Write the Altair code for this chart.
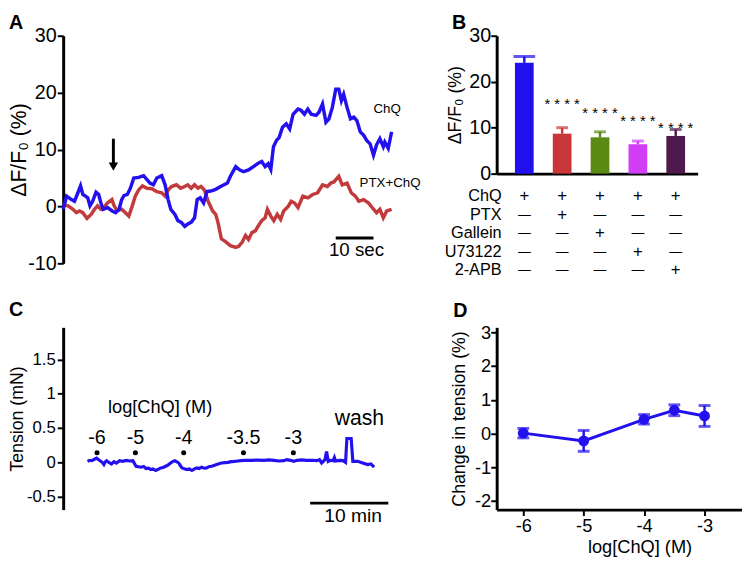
import altair as alt
import pandas as pd

FONT = "Liberation Sans"
BLUE = "#2211ee"
RED = "#c23a3b"

# ---------------- Panel A: ΔF/F0 traces (time s, value %) ----------------
a_chq = [(0.0, -0.5), (0.9, 1.8), (2.2, 1.2), (3.0, 0.9), (3.9, 2.4), (4.6, 3.6), (5.2, 2.1),
         (5.9, 1.8), (6.5, 1.5), (7.1, 0.1), (7.8, 0.9), (8.7, 2.5), (9.4, 2.1), (10.0, 0.6),
         (10.6, -0.5), (11.7, -0.2), (13.0, -0.8), (13.9, -1.1), (14.8, -0.5), (15.5, 1.2),
         (16.1, 1.9), (17.0, 2.1), (17.8, 3.2), (18.7, 5.0), (20.0, 5.1), (21.3, 5.4),
         (22.2, 4.7), (23.0, 4.1), (23.9, 3.8), (24.8, 5.0), (26.1, 5.4), (27.0, 3.8),
         (27.8, 1.2), (28.5, -0.5), (29.6, -1.4), (30.4, -2.5), (31.3, -2.8), (32.2, -3.5),
         (33.0, -3.1), (33.9, -2.8), (34.8, -2.0), (35.5, 1.2), (36.3, 1.5), (37.2, 0.6),
         (38.1, 2.6), (39.1, 2.7), (40.4, 3.0), (41.7, 3.5), (43.5, 4.1), (44.3, 5.3),
         (45.7, 7.0), (46.8, 6.4), (47.8, 6.1), (49.1, 6.4), (50.4, 7.0), (51.7, 7.6),
         (52.6, 7.9), (53.5, 7.0), (54.3, 7.5), (55.0, 6.5), (55.7, 10.5), (56.5, 11.6),
         (57.2, 12.1), (58.1, 13.9), (59.1, 14.5), (60.0, 13.6), (60.9, 16.2), (62.2, 17.1),
         (63.0, 16.9), (63.9, 16.2), (64.8, 17.1), (65.7, 16.2), (67.0, 16.0), (67.8, 16.6),
         (68.7, 18.0), (69.6, 14.8), (70.4, 15.4), (71.3, 17.4), (72.2, 20.6), (73.0, 20.6),
         (73.7, 18.6), (74.3, 19.7), (75.2, 17.4), (76.1, 15.4), (77.0, 15.7), (77.8, 15.1),
         (78.7, 13.1), (79.6, 12.5), (80.4, 11.6), (81.3, 11.0), (82.2, 9.0), (83.0, 10.8),
         (83.9, 11.9), (84.8, 10.5), (85.2, 11.3), (86.1, 10.2), (87.0, 13.1)]

a_ptx = [(0.0, 0.3), (1.3, 0.1), (2.6, -0.5), (3.5, -1.1), (4.3, -0.8), (5.2, -1.1), (6.3, -2.1),
         (7.4, -1.4), (8.3, -0.5), (9.1, 0.1), (10.0, -0.5), (10.9, -0.1), (11.7, 0.6),
         (12.9, 1.2), (13.5, 0.1), (14.3, -0.8), (15.5, -0.5), (16.5, -1.1), (17.4, -1.7),
         (18.3, 0.1), (19.1, 1.8), (20.0, 2.9), (21.0, 3.6), (22.2, 3.2), (23.5, 3.1),
         (24.8, 2.6), (26.1, 2.4), (27.0, 1.8), (27.8, 2.9), (28.7, 3.5), (30.0, 3.8),
         (31.1, 3.2), (32.2, 3.5), (33.0, 3.8), (33.9, 3.2), (34.8, 3.8), (35.7, 3.2),
         (36.5, 3.5), (37.4, 2.9), (38.4, 0.9), (39.6, -0.8), (40.4, -1.4), (41.0, -2.8),
         (41.9, -5.7), (43.0, -6.2), (44.3, -6.9), (45.7, -7.2), (46.5, -7.0), (47.4, -6.3),
         (48.3, -5.1), (49.1, -5.8), (50.0, -4.6), (50.9, -4.3), (51.7, -3.4), (52.6, -2.5),
         (53.5, -2.0), (54.1, -0.5), (55.0, -1.7), (55.8, -2.5), (56.7, -1.4), (57.6, -2.3),
         (58.4, -0.8), (59.6, 0.0), (60.4, 0.9), (61.3, 0.6), (62.2, -0.2), (63.5, 1.8),
         (64.8, 1.5), (66.1, 2.1), (67.4, 2.4), (68.7, 3.8), (70.0, 3.5), (70.9, 4.1),
         (71.7, 4.3), (73.0, 5.3), (73.9, 3.8), (75.2, 4.1), (76.3, 2.4), (77.4, 1.8),
         (78.3, 0.9), (79.6, 1.2), (80.9, 0.6), (82.2, -0.5), (83.0, -1.1), (83.9, -0.5),
         (84.8, -2.0), (85.7, -0.8), (87.0, -0.5)]

a_series = ["ChQ", "PTX+ChQ"]
a_arrow_t = 13.3

# ---------------- Panel B: bar summary ----------------
b_groups = ["ChQ", "PTX", "Gallein", "U73122", "2-APB"]
b_mean = [24.1, 8.7, 7.9, 6.4, 8.2]
b_sem = [1.4, 1.3, 1.2, 0.7, 1.4]
b_colors = ["#2010f0", "#c8363a", "#5a8a12", "#d23ef6", "#4e1a4e"]
b_stars = ["", "* * * *", "* * * *", "* * * *", "* * * *"]
b_star_y = [None, 15.8, 13.8, 12.1, 10.7]
b_rows = ["ChQ", "PTX", "Gallein", "U73122", "2-APB"]
b_signs = [
    ["+", "+", "+", "+", "+"],
    ["—", "+", "—", "—", "—"],
    ["—", "—", "+", "—", "—"],
    ["—", "—", "—", "+", "—"],
    ["—", "—", "—", "—", "+"],
]

# ---------------- Panel C: tension trace (time min, mN) ----------------
c_trace = [(3.11, 0.014), (3.40, 0.030), (3.66, 0.024), (4.00, 0.045), (4.29, 0.062),
           (4.50, 0.040), (4.71, 0.024), (5.00, 0.000), (5.21, -0.033), (5.40, 0.010),
           (5.55, 0.024), (5.90, -0.005), (6.18, -0.024), (6.50, 0.010), (6.81, -0.010),
           (7.23, 0.024), (7.60, 0.015), (8.07, 0.029), (8.50, 0.020), (8.91, 0.024),
           (9.33, -0.057), (9.96, -0.071), (10.30, -0.060), (10.59, -0.090), (10.90, -0.085),
           (11.22, -0.105), (11.50, -0.095), (11.85, -0.119), (12.20, -0.100), (12.48, -0.081),
           (12.80, -0.075), (13.11, -0.057), (13.40, -0.040), (13.74, -0.010), (14.00, 0.010),
           (14.29, 0.024), (14.50, 0.010), (14.79, -0.010), (15.00, -0.050), (15.21, -0.081),
           (15.50, -0.095), (15.84, -0.105), (16.15, -0.095), (16.47, -0.119), (16.80, -0.095),
           (17.10, -0.081), (17.40, -0.090), (17.73, -0.071), (18.05, -0.085), (18.36, -0.081),
           (18.70, -0.060), (18.99, -0.057), (19.30, -0.045), (19.62, -0.033), (19.95, -0.020),
           (20.25, -0.010), (20.70, -0.005), (21.09, 0.000), (21.50, 0.010), (21.93, 0.014),
           (22.35, 0.020), (22.77, 0.024), (23.40, 0.030), (24.03, 0.029), (24.80, 0.032),
           (25.71, 0.029), (26.30, 0.035), (26.97, 0.029), (27.60, 0.020), (28.24, 0.024),
           (28.60, 0.040), (29.08, 0.029), (29.50, 0.015), (29.92, 0.029), (30.50, 0.035),
           (31.18, 0.029), (31.80, 0.030), (32.44, 0.024), (32.80, 0.040), (33.07, -0.010),
           (33.49, 0.038), (33.70, 0.157), (33.91, 0.014), (34.20, 0.030), (34.54, 0.024),
           (34.70, 0.070), (34.85, 0.020), (35.38, 0.029), (35.80, 0.025), (36.13, 0.000),
           (36.30, 0.348), (36.85, 0.348), (37.06, 0.014), (37.69, 0.014), (38.32, -0.010),
           (38.95, -0.033), (39.37, -0.024), (39.79, -0.071)]
c_doses = ["-6", "-5", "-4", "-3.5", "-3"]
c_dose_t = [4.33, 9.24, 15.42, 23.07, 29.45]

# ---------------- Panel D: concentration-response ----------------
d_logc = [-6, -5, -4, -3.5, -3]
d_mean = [0.01, -0.22, 0.42, 0.69, 0.52]
d_sem = [0.14, 0.31, 0.14, 0.16, 0.31]

# ---------------- layout ----------------
A_W, A_H, A_T, A_Y = 410, 231, [0, 107], [-10, 30]
B_W, B_H, B_X, B_Y = 204, 140, [0.4, 5.45], [0, 30]
C_W, C_H, C_T, C_Y = 403, 185, [0, 50.8], [-0.69, 1.97]
D_W, D_H, D_X, D_Y = 249, 185, [-6.44, -2.38], [-2.26, 3.15]


def sc(domain):
    return alt.Scale(domain=domain, nice=False, zero=False)


def lab_expr():
    return "toString(datum.value)"


def panel_label(letter, x, y, xf, yf):
    return alt.Chart(pd.DataFrame({"x": [x], "v": [y], "s": [letter]})).mark_text(
        align="left", baseline="middle", fontSize=20, fontWeight="bold", color="black"
    ).encode(x=xf("x"), y=yf("v"), text="s:N")


# ----- A -----
axA = alt.Axis(values=[-10, 0, 10, 20, 30], title="ΔF/F₀ (%)", labelExpr=lab_expr(),
               labelFontSize=20, titleFontSize=21.5, titleX=-33, labelPadding=1)


def xA(f):
    return alt.X(f"{f}:Q", scale=sc(A_T), axis=None)


def yA(f):
    return alt.Y(f"{f}:Q", scale=sc(A_Y), axis=axA)


dfA = pd.DataFrame(
    [{"x": t, "v": v, "s": a_series[0]} for t, v in a_chq]
    + [{"x": t, "v": v, "s": a_series[1]} for t, v in a_ptx]
)
lineR = alt.Chart(dfA[dfA.s == a_series[1]]).mark_line(color=RED, strokeWidth=3.5).encode(x=xA("x"), y=yA("v"))
lineB = alt.Chart(dfA[dfA.s == a_series[0]]).mark_line(color=BLUE, strokeWidth=3.5).encode(x=xA("x"), y=yA("v"))
txtA = alt.Chart(pd.DataFrame({"x": [82.2, 78.5], "v": [17.1, 4.1], "s": a_series})).mark_text(
    align="left", baseline="middle", fontSize=13.5, color="black").encode(x=xA("x"), y=yA("v"), text="s:N")
arrow = alt.Chart(pd.DataFrame({"x": [a_arrow_t], "v": [11.9], "v2": [7.6]})).mark_rule(
    strokeWidth=3, color="black").encode(x=xA("x"), y=yA("v"), y2="v2")
arrowhead = alt.Chart(pd.DataFrame({"x": [a_arrow_t], "v": [7.0]})).mark_point(
    shape="triangle-down", filled=True, size=90, color="black", opacity=1).encode(x=xA("x"), y=yA("v"))
barA = alt.Chart(pd.DataFrame({"x": [72.2], "x2": [82.2], "v": [-5.55]})).mark_rule(
    strokeWidth=3, color="black").encode(x=xA("x"), x2="x2", y=yA("v"))
barAtxt = alt.Chart(pd.DataFrame({"x": [77.7], "v": [-7.6], "s": ["10 sec"]})).mark_text(
    fontSize=19, baseline="middle", color="black").encode(x=xA("x"), y=yA("v"), text="s:N")
panelA = alt.layer(lineR, lineB, txtA, arrow, arrowhead, barA, barAtxt,
                   panel_label("A", -14.35, 32.3, xA, yA)).properties(width=A_W, height=A_H)

# ----- B -----
axBy = alt.Axis(values=[0, 10, 20, 30], title="ΔF/F₀ (%)", labelExpr=lab_expr(),
                labelFontSize=20, titleFontSize=18, titleX=-33, labelPadding=0)
axBx = alt.Axis(ticks=False, labels=False, title=None)


def xB(f):
    return alt.X(f"{f}:Q", scale=sc(B_X), axis=axBx)


def yB(f):
    return alt.Y(f"{f}:Q", scale=alt.Scale(domain=B_Y, nice=False), axis=axBy)


n = len(b_groups)
dfB = pd.DataFrame({
    "x": list(range(1, n + 1)), "v": b_mean,
    "hi": [m + s for m, s in zip(b_mean, b_sem)], "g": b_groups,
    "cap": [22] + [12] * (n - 1),
})
colB = alt.Color("g:N", scale=alt.Scale(domain=b_groups, range=b_colors), legend=None)
bars = alt.Chart(dfB).mark_bar(size=19).encode(x=xB("x"), y=yB("v"), color=colB)
errB = alt.Chart(dfB).mark_rule(strokeWidth=2.5).encode(x=xB("x"), y=yB("v"), y2="hi", color=colB)
capB = alt.Chart(dfB).mark_tick(orient="horizontal", thickness=3).encode(
    x=xB("x"), y=yB("hi"), size=alt.Size("cap:Q", scale=None), color=colB)
dfS = pd.DataFrame({"x": list(range(1, n + 1)), "s": b_stars,
                    "v": [(y - 1.8) if y is not None else 0 for y in b_star_y]})
dfS = dfS[dfS.s != ""]
stars = alt.Chart(dfS).mark_text(fontSize=15, baseline="alphabetic", color="black").encode(
    x=xB("x"), y=yB("v"), text="s:N")
row_v = [-4.9 - 4.03 * i for i in range(len(b_rows))]
rowlab = alt.Chart(pd.DataFrame({"x": [B_X[0]] * len(b_rows), "v": row_v, "s": b_rows})).mark_text(
    align="right", baseline="middle", fontSize=16.5, color="black").encode(x=xB("x"), y=yB("v"), text="s:N")
sign_rows = []
for i, row in enumerate(b_signs):
    for j, s in enumerate(row):
        sign_rows.append({"x": j + 1, "v": row_v[i], "s": s, "fs": 17 if s == "+" else 13})
signs = alt.Chart(pd.DataFrame(sign_rows)).mark_text(align="center", baseline="middle", color="black").encode(
    x=xB("x"), y=yB("v"), text="s:N", size=alt.Size("fs:Q", scale=None))
panelB = alt.layer(bars, errB, capB, stars, rowlab, signs,
                   panel_label("B", -0.91, 32.7, xB, yB)).properties(width=B_W, height=B_H)

# ----- C -----
axC = alt.Axis(values=[-0.5, 0, 0.5, 1, 1.5], title="Tension (mN)", labelExpr=lab_expr(),
               labelFontSize=17, titleFontSize=18, titleX=-37, labelPadding=2)


def xC(f):
    return alt.X(f"{f}:Q", scale=sc(C_T), axis=None)


def yC(f):
    return alt.Y(f"{f}:Q", scale=sc(C_Y), axis=axC)


dfC = pd.DataFrame(c_trace, columns=["x", "v"])
lineC = alt.Chart(dfC).mark_line(color=BLUE, strokeWidth=3.2).encode(x=xC("x"), y=yC("v"))
dfDose = pd.DataFrame({"x": c_dose_t, "s": c_doses})
dfDose["v"] = 0.14
dfDose["vl"] = 0.35
dots = alt.Chart(dfDose).mark_circle(size=26, color="black", opacity=1).encode(x=xC("x"), y=yC("v"))
doseTxt = alt.Chart(dfDose).mark_text(fontSize=20, baseline="middle", color="black").encode(
    x=xC("x"), y=yC("vl"), text="s:N")
txtC = alt.Chart(pd.DataFrame({"x": [12.4, 37.9, 37.1], "v": [0.81, 0.633, -0.786],
                               "s": ["log[ChQ] (M)", "wash", "10 min"],
                               "fs": [18.5, 21.5, 19.5]})).mark_text(baseline="middle", color="black").encode(
    x=xC("x"), y=yC("v"), text="s:N", size=alt.Size("fs:Q", scale=None))
barC = alt.Chart(pd.DataFrame({"x": [31.6], "x2": [41.6], "v": [-0.595]})).mark_rule(
    strokeWidth=3, color="black").encode(x=xC("x"), x2="x2", y=yC("v"))
panelC = alt.layer(lineC, dots, doseTxt, txtC, barC,
                   panel_label("C", -6.94, 2.22, xC, yC)).properties(width=C_W, height=C_H)

# ----- D -----
axDx = alt.Axis(values=[-6, -5, -4, -3], title="log[ChQ] (M)", labelExpr=lab_expr(),
                labelFontSize=18.5, titleFontSize=18.5, labelPadding=1, titlePadding=3, titleX=145)
axDy = alt.Axis(values=[-2, -1, 0, 1, 2, 3], title="Change in tension (%)", labelExpr=lab_expr(),
                labelFontSize=18.5, titleFontSize=18, titleX=-29, labelPadding=0)


def xD(f):
    return alt.X(f"{f}:Q", scale=sc(D_X), axis=axDx)


def yD(f):
    return alt.Y(f"{f}:Q", scale=sc(D_Y), axis=axDy)


dfD = pd.DataFrame({"x": d_logc, "v": d_mean,
                    "lo": [m - s for m, s in zip(d_mean, d_sem)],
                    "hi": [m + s for m, s in zip(d_mean, d_sem)]})
lineD = alt.Chart(dfD).mark_line(color=BLUE, strokeWidth=3).encode(x=xD("x"), y=yD("v"))
errD = alt.Chart(dfD).mark_rule(color=BLUE, strokeWidth=2.5).encode(x=xD("x"), y=yD("lo"), y2="hi")
capLo = alt.Chart(dfD).mark_tick(orient="horizontal", thickness=3, size=12, color=BLUE).encode(x=xD("x"), y=yD("lo"))
capHi = alt.Chart(dfD).mark_tick(orient="horizontal", thickness=3, size=12, color=BLUE).encode(x=xD("x"), y=yD("hi"))
ptsD = alt.Chart(dfD).mark_point(filled=True, size=120, color=BLUE, opacity=1).encode(x=xD("x"), y=yD("v"))
panelD = alt.layer(lineD, errD, capLo, capHi, ptsD,
                   panel_label("D", -7.16, 3.64, xD, yD)).properties(width=D_W, height=D_H)

chart = alt.concat(
    panelA, panelB, panelC, panelD, columns=2,
    spacing={"row": 65, "column": 30}, bounds="flush",
    align={"row": "each", "column": "none"},
).properties(
    padding={"left": 0, "top": 0, "right": 0, "bottom": 0}
).configure(font=FONT).configure_view(stroke=None).configure_axis(
    domainColor="black", domainWidth=3, tickColor="black", tickWidth=2, tickSize=6,
    labelColor="black", titleColor="black", titleFontWeight="normal", grid=False,
    labelFont=FONT, titleFont=FONT,
).configure_text(font=FONT)

chart.save("out.html", embed_options={"renderer": "svg", "actions": False})
